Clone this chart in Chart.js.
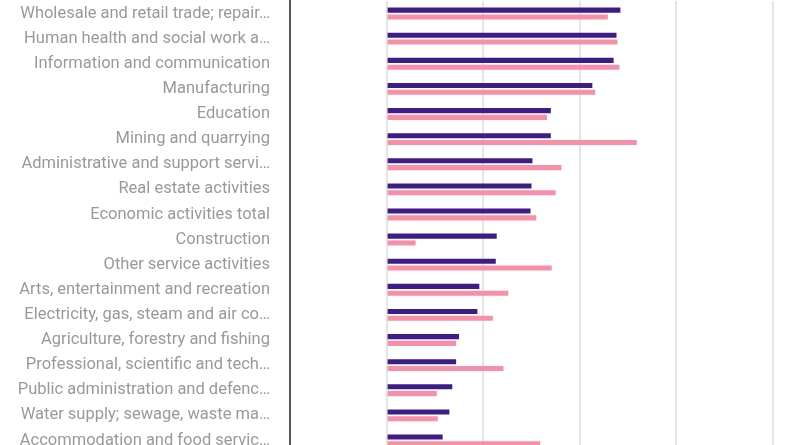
<!DOCTYPE html>
<html>
<head>
<meta charset="utf-8">
<script src="https://cdn.jsdelivr.net/npm/chart.js@4/dist/chart.umd.min.js"></script>
<style>
  html, body { margin: 0; padding: 0; background: #fff; overflow: hidden; }
  #wrap { position: relative; width: 800px; height: 453px; }
</style>
</head>
<body>
<div id="wrap"><canvas id="barChart"></canvas></div>
<script>
// categories as they appear on the axis (long names are cut with an ellipsis)
var categories = [
    "Wholesale and retail trade; repair…",
    "Human health and social work a…",
    "Information and communication",
    "Manufacturing",
    "Education",
    "Mining and quarrying",
    "Administrative and support servi…",
    "Real estate activities",
    "Economic activities total",
    "Construction",
    "Other service activities",
    "Arts, entertainment and recreation",
    "Electricity, gas, steam and air co…",
    "Agriculture, forestry and fishing",
    "Professional, scientific and tech…",
    "Public administration and defenc…",
    "Water supply; sewage, waste ma…",
    "Accommodation and food servic…"
];

// first series (purple)
var seriesA = [24.2, 23.8, 23.5, 21.3, 17.0, 17.0, 15.1, 15.0, 14.9, 11.4, 11.3, 9.6, 9.4, 7.5, 7.2, 6.8, 6.5, 5.8];
// second series (pink)
var seriesB = [22.9, 23.9, 24.1, 21.6, 16.6, 25.9, 18.1, 17.5, 15.5, 3.0, 17.1, 12.6, 11.0, 7.2, 12.1, 5.2, 5.3, 15.9];

// value axis range and step
var axisMin = -10;
var axisMax = 40;
var axisStep = 10;

var ctx = document.getElementById("barChart");

var barChartInstance = new Chart(ctx, {
    type: "bar",
    data: {
        labels: categories,
        datasets: [
            {
                label: "Series A",
                data: seriesA,
                backgroundColor: "#3e1c85",
                borderWidth: 0,
                categoryPercentage: 0.54,
                barPercentage: 0.75
            },
            {
                label: "Series B",
                data: seriesB,
                backgroundColor: "#f78fa8",
                borderWidth: 0,
                categoryPercentage: 0.54,
                barPercentage: 0.75
            }
        ]
    },
    options: {
        indexAxis: "y",
        responsive: true,
        maintainAspectRatio: false,
        animation: false,
        layout: {
            padding: { top: 1, right: 27, bottom: 0, left: 0 }
        },
        plugins: {
            legend: { display: false },
            tooltip: { enabled: false }
        },
        scales: {
            x: {
                min: axisMin,
                max: axisMax,
                ticks: { display: false, stepSize: axisStep },
                grid: { color: "#e5e5e5", lineWidth: 2, drawTicks: false },
                border: { display: false }
            },
            y: {
                afterFit: function(scale) {
                    // fixed axis width, and no extra room above/below the labels
                    scale.width = 290;
                    scale.paddingTop = 0;
                    scale.paddingBottom = 0;
                },
                ticks: {
                    color: "#999999",
                    padding: 20,
                    autoSkip: false,
                    font: { family: "Roboto", size: 16.5 }
                },
                grid: { display: false, drawTicks: false },
                border: { display: true, color: "#555555", width: 2 }
            }
        }
    }
});
</script>
</body>
</html>
